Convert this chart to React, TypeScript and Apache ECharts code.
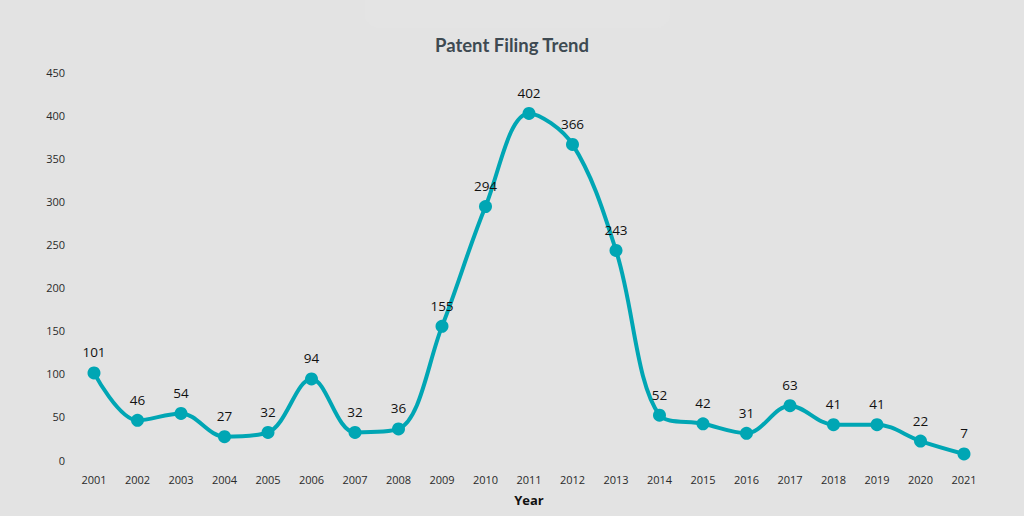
import React, { useEffect, useRef } from "react";
import * as echarts from "echarts";

const years = ["2001","2002","2003","2004","2005","2006","2007","2008","2009","2010","2011","2012","2013","2014","2015","2016","2017","2018","2019","2020","2021"];
const filings = [101, 46, 54, 27, 32, 94, 32, 36, 155, 294, 402, 366, 243, 52, 42, 31, 63, 41, 41, 22, 7];

export default function App() {
  const ref = useRef<HTMLDivElement>(null);
  useEffect(() => {
    document.body.style.margin = "0";
    const chart = echarts.init(ref.current!, null, { renderer: "svg" });
    chart.setOption({
      animation: false,
      backgroundColor: "#e3e3e3",
      textStyle: { fontFamily: "Lato" },
      graphic: [
        { type: "rect", shape: { x: 365, y: -12, width: 305, height: 40, r: 14 }, style: { fill: "#e4e4e4" }, z: -1 },
      ],
      title: {
        text: "Patent Filing Trend",
        left: "center",
        top: 30,
        textStyle: { fontFamily: "Lato", fontWeight: "bold", fontSize: 18.5, color: "#3e4a52" },
      },
      grid: { left: 94, right: 60, top: 72, bottom: 56, containLabel: false },
      xAxis: {
        type: "category",
        data: years,
        boundaryGap: false,
        name: "Year",
        nameLocation: "middle",
        nameGap: 33,
        nameTextStyle: { fontFamily: "Open Sans", fontWeight: "bold", fontSize: 13, color: "#111" },
        axisLine: { show: false },
        axisTick: { show: false },
        axisLabel: { fontFamily: "Open Sans", fontSize: 11, color: "#2a2a2a", margin: 14 },
        splitLine: { show: false },
      },
      yAxis: {
        type: "value",
        min: 0,
        max: 450,
        interval: 50,
        axisLine: { show: false },
        axisTick: { show: false },
        axisLabel: { fontFamily: "Open Sans", fontSize: 11, color: "#2a2a2a", margin: 29 },
        splitLine: { show: false },
      },
      series: [
        {
          type: "line",
          data: filings,
          smooth: 0.35,
          symbol: "circle",
          symbolSize: 13,
          lineStyle: { color: "#00a6b4", width: 4 },
          itemStyle: { color: "#00a6b4" },
          label: { show: true, position: "top", distance: 7, fontFamily: "Open Sans", fontSize: 13.5, color: "#111" },
        },
      ],
    });
    return () => chart.dispose();
  }, []);
  return <div ref={ref} style={{ width: 1024, height: 516 }} />;
}
